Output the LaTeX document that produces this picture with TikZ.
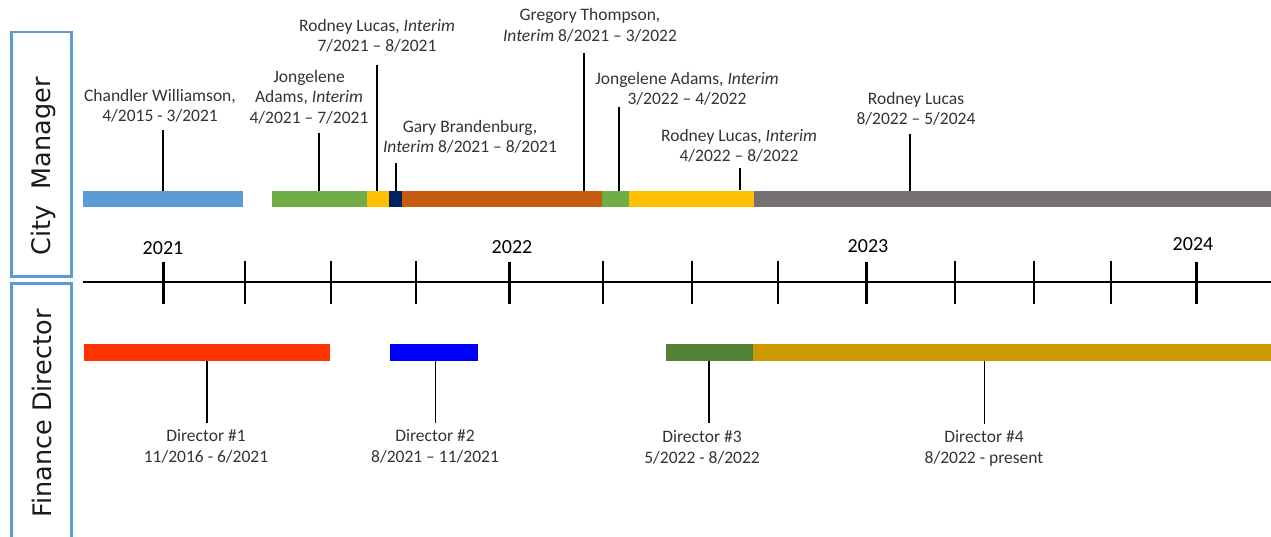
\documentclass[tikz,border=0pt]{standalone}
\usepackage{fontspec}
\setmainfont{Carlito}
\newfontfamily\vfont{DejaVu Sans}
\definecolor{boxblue}{HTML}{5B9BD5}
\definecolor{cmblue}{HTML}{5B9BD5}
\definecolor{cmgreen}{HTML}{70AD47}
\definecolor{cmyellow}{HTML}{FFC000}
\definecolor{cmnavy}{HTML}{002060}
\definecolor{cmorange}{HTML}{C55A11}
\definecolor{cmgray}{HTML}{767171}
\definecolor{fdred}{HTML}{FF3300}
\definecolor{fdblue}{HTML}{0000FF}
\definecolor{fdgreen}{HTML}{538135}
\definecolor{fdgold}{HTML}{CC9900}
\definecolor{labelgray}{HTML}{333333}
\begin{document}
\begin{tikzpicture}[x=1pt,y=-1pt,
  lbl/.style={font=\fontsize{17.5}{20.5}\selectfont, text=labelgray, align=center, inner sep=0pt, anchor=base},
  yr/.style={font=\fontsize{20}{24}\selectfont, text=black, inner sep=0pt, anchor=base},
  vlabel/.style={font=\vfont\fontsize{25.5}{30}\selectfont, text=black!90, inner sep=0pt, anchor=base, rotate=90},
  sidebox/.style={draw=boxblue, line width=2.5pt},
  cmbar/.style={inner sep=0pt, minimum height=16pt, anchor=north west},
  fdbar/.style={inner sep=0pt, minimum height=17pt, anchor=north west},
  leader/.style={draw=black, line width=1.3pt},
  axisline/.style={draw=black, line width=2.6pt},
  majortick/.style={draw=black, line width=3pt},
  minortick/.style={draw=black, line width=1.3pt}
]
\useasboundingbox (0,0) rectangle (1271,537);

% side boxes
\draw[sidebox] (11.5,32) rectangle (71.5,276.5);
\draw[sidebox] (11.5,545) -- (11.5,283.5) -- (71.5,283.5) -- (71.5,545);
\node[vlabel] (cmtitle) at (50.5,166.5) {City\ \ Manager};
\node[vlabel] (fdtitle) at (51,413.5) {Finance Director};

% axis
\coordinate (axl) at (83,282);
\coordinate (axr) at (1271,282);
\draw[axisline] (axl) -- (axr);
\foreach \x in {163,509,866,1196}{\draw[majortick] (\x,262) -- (\x,304);}
\foreach \x in {245,331,416,603,692,778,955,1034,1111}{\draw[minortick] (\x,261) -- (\x,304);}
\node[yr] (y2021) at (163,254.3) {2021};
\node[yr] (y2022) at (512,253.3) {2022};
\node[yr] (y2023) at (868,252.3) {2023};
\node[yr] (y2024) at (1193,250.3) {2024};

% city manager bars
\node[cmbar, fill=cmblue, minimum width=160pt] (cm1) at (83,191) {};
\node[cmbar, fill=cmgreen, minimum width=95pt] (cm2) at (272,191) {};
\node[cmbar, fill=cmyellow, minimum width=22pt] (cm3) at (367,191) {};
\node[cmbar, fill=cmnavy, minimum width=13pt] (cm4) at (389,191) {};
\node[cmbar, fill=cmorange, minimum width=200pt] (cm5) at (402,191) {};
\node[cmbar, fill=cmgreen, minimum width=27pt] (cm6) at (602,191) {};
\node[cmbar, fill=cmyellow, minimum width=125pt] (cm7) at (629,191) {};
\node[cmbar, fill=cmgray, minimum width=517pt] (cm8) at (754,191) {};

% city manager labels (anchor = baseline of last line)
\node[lbl] (l1) at (160,122) {Chandler Williamson,\\4/2015 - 3/2021};
\node[lbl] (l2) at (309,123.5) {Jongelene\\Adams, \textit{Interim}\\4/2021 – 7/2021};
\node[lbl] (l3) at (377,52) {Rodney Lucas, \textit{Interim}\\7/2021 – 8/2021};
\node[lbl] (l4) at (470,153) {Gary Brandenburg,\\\textit{Interim} 8/2021 – 8/2021};
\node[lbl] (l5) at (590,41.5) {Gregory Thompson,\\\textit{Interim} 8/2021 – 3/2022};
\node[lbl] (l6) at (687,105) {Jongelene Adams, \textit{Interim}\\3/2022 – 4/2022};
\node[lbl] (l7) at (739,162) {Rodney Lucas, \textit{Interim}\\4/2022 – 8/2022};
\node[lbl] (l8) at (916,125) {Rodney Lucas\\8/2022 – 5/2024};

% city manager leaders
\coordinate (t1) at (163,130);
\coordinate (t2) at (319,133);
\coordinate (t3) at (377,65);
\coordinate (t4) at (396,163);
\coordinate (t5) at (584,53);
\coordinate (t6) at (619,107);
\coordinate (t7) at (740,168);
\coordinate (t8) at (910,134);
\draw[leader] (cm1.north -| t1) -- (t1);
\draw[leader] (cm2.north -| t2) -- (t2);
\draw[leader] (cm3.north -| t3) -- (t3);
\draw[leader] (cm4.north -| t4) -- (t4);
\draw[leader] (cm5.north -| t5) -- (t5);
\draw[leader] (cm6.north -| t6) -- (t6);
\draw[leader] ([yshift=1pt]cm7.north -| t7) -- (t7);
\draw[leader] (cm8.north -| t8) -- (t8);

% finance director bars
\node[fdbar, fill=fdred, minimum width=246pt] (fd1) at (84,344) {};
\node[fdbar, fill=fdblue, minimum width=88pt] (fd2) at (390,344) {};
\node[fdbar, fill=fdgreen, minimum width=87pt] (fd3) at (666,344) {};
\node[fdbar, fill=fdgold, minimum width=518pt] (fd4) at (753,344) {};

% finance director leaders
\coordinate (b1) at (207,423);
\coordinate (b2) at (435.5,423);
\coordinate (b3) at (709,423);
\coordinate (b4) at (984.5,424);
\draw[leader] (fd1.south -| b1) -- (b1);
\draw[leader] (fd2.south -| b2) -- (b2);
\draw[leader] (fd3.south -| b3) -- (b3);
\draw[leader] (fd4.south -| b4) -- (b4);

% finance director labels
\node[lbl] (d1) at (206,462) {Director \#1\\11/2016 - 6/2021};
\node[lbl] (d2) at (435,462) {Director \#2\\8/2021 – 11/2021};
\node[lbl] (d3) at (702,463) {Director \#3\\5/2022 - 8/2022};
\node[lbl] (d4) at (984,463) {Director \#4\\8/2022 - present};
\end{tikzpicture}
\end{document}
